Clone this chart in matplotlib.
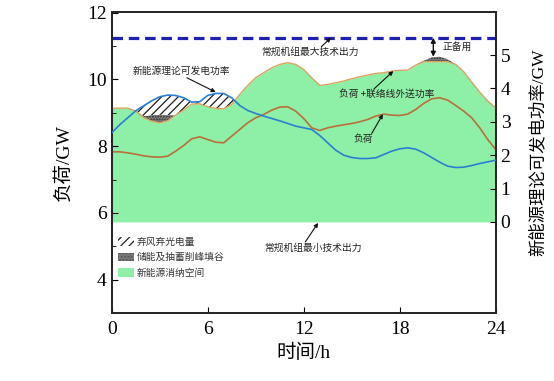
import matplotlib
matplotlib.use("Agg")
import matplotlib.pyplot as plt
from matplotlib.patches import Patch
import numpy as np

# ---------------- data ----------------
hours = [0.0, 0.5, 1.0, 1.5, 2.0, 2.5, 3.0, 3.5, 4.0, 4.5, 5.0, 5.5, 6.0, 6.5,
         7.0, 7.5, 8.0, 8.5, 9.0, 9.5, 10.0, 10.5, 11.0, 11.5, 12.0, 12.5, 13.0,
         13.5, 14.0, 14.5, 15.0, 15.5, 16.0, 16.5, 17.0, 17.5, 18.0, 18.5, 19.0,
         19.5, 20.0, 20.5, 21.0, 21.5, 22.0, 22.5, 23.0, 23.5, 24.0]

# load + tie-line export (upper edge of the green area), GW (left axis)
load_export = [9.13, 9.14, 9.14, 9.05, 8.86, 8.75, 8.70, 8.76, 8.93, 9.08, 9.26,
               9.27, 9.18, 9.13, 9.12, 9.25, 9.55, 9.82, 10.05, 10.20, 10.35,
               10.45, 10.50, 10.45, 10.30, 10.05, 9.82, 9.85, 9.90, 9.95, 10.02,
               10.08, 10.13, 10.18, 10.20, 10.25, 10.27, 10.28, 10.43, 10.53,
               10.53, 10.53, 10.53, 10.45, 10.23, 9.92, 9.62, 9.35, 9.15]

# other edge of the storage (peak shaving / valley filling) areas, GW (left axis)
storage_edge = [9.13, 9.14, 9.14, 9.05, 8.90, 8.93, 8.94, 8.93, 8.93, 9.08, 9.26,
                9.27, 9.18, 9.13, 9.12, 9.25, 9.55, 9.82, 10.05, 10.20, 10.35,
                10.45, 10.50, 10.45, 10.30, 10.05, 9.82, 9.85, 9.90, 9.95, 10.02,
                10.08, 10.13, 10.18, 10.20, 10.25, 10.27, 10.28, 10.43, 10.56,
                10.66, 10.68, 10.60, 10.45, 10.23, 9.92, 9.62, 9.35, 9.15]

# load, GW (left axis)
load = [7.83, 7.83, 7.80, 7.76, 7.71, 7.68, 7.67, 7.70, 7.85, 8.02, 8.22, 8.28,
        8.20, 8.12, 8.10, 8.30, 8.50, 8.70, 8.85, 8.95, 9.08, 9.17, 9.18, 9.05,
        8.83, 8.55, 8.47, 8.55, 8.60, 8.64, 8.68, 8.73, 8.80, 8.90, 8.96, 8.93,
        8.92, 8.96, 9.10, 9.28, 9.42, 9.45, 9.38, 9.22, 9.05, 8.85, 8.55, 8.20,
        7.90]

# new-energy theoretical available power, GW (right axis)
renewable = [2.67, 2.91, 3.12, 3.33, 3.48, 3.63, 3.75, 3.80, 3.79, 3.72, 3.59,
             3.60, 3.79, 3.85, 3.85, 3.72, 3.49, 3.34, 3.25, 3.17, 3.10, 3.03,
             2.95, 2.87, 2.82, 2.77, 2.59, 2.37, 2.15, 2.00, 1.93, 1.90, 1.90,
             1.92, 2.02, 2.12, 2.19, 2.22, 2.18, 2.07, 1.93, 1.79, 1.67, 1.63,
             1.64, 1.69, 1.75, 1.80, 1.85]

min_output = 5.73      # conventional units minimum technical output, GW (= right-axis 0)
max_output = 11.25     # conventional units maximum technical output, GW

x_ticks = [0, 6, 12, 18, 24]
y_ticks = [4, 6, 8, 10, 12]
y2_ticks = [0, 1, 2, 3, 4, 5]

# ---------------- figure ----------------
plt.rcParams['font.family'] = ['Liberation Serif', 'Noto Sans CJK SC', 'DejaVu Sans']
plt.rcParams['hatch.linewidth'] = 0.9
cjk = ['Noto Sans CJK SC', 'DejaVu Sans']
serif_cjk = ['Liberation Serif', 'Noto Sans CJK SC']

fig = plt.figure(figsize=(5.54, 3.81), dpi=100)
ax = fig.add_axes([0.2016, 0.1785, 0.6932, 0.7908])

h = np.array(hours)
top = np.array(load_export)
edge = np.array(storage_edge)
ren_left = np.array(renewable) + min_output

GREEN = '#8ef0a6'
ax.fill_between(h, min_output, top, color=GREEN, lw=0, zorder=1)

# storage (peak shaving / valley filling)
ax.fill_between(h, top, edge, where=edge > top + 1e-6, interpolate=True,
                facecolor='#7c7c7c', edgecolor='#333333', hatch='......',
                lw=0, zorder=2)

# curtailment (hatched)
base = np.maximum(top, edge)
ax.fill_between(h, base, ren_left, where=ren_left > base, interpolate=True,
                facecolor='white', edgecolor='#1a1a1a', hatch='////', lw=0, zorder=2)

ax.plot(h, top, color='#d9a462', lw=1.0, zorder=3)
ax.plot(h, load, color='#b8703a', lw=1.2, zorder=3)
ax.axhline(max_output, color='#1f22b0', lw=2.3, ls=(0, (3.3, 1.8)), zorder=4)

ax.set_xlim(0, 24)
ax.set_ylim(3, 12.03)
ax.set_xticks(x_ticks)
ax.set_yticks(y_ticks)
ax.set_yticks([5, 7, 9, 11], minor=True)
ax.tick_params(axis='both', which='both', direction='in', labelsize=14,
               top=False, right=False)
ax.tick_params(axis='both', which='major', length=4)
ax.tick_params(axis='y', which='minor', length=3)
for lab in ax.get_xticklabels() + ax.get_yticklabels():
    lab.set_fontfamily('Liberation Serif')
ax.tick_params(axis='x', pad=6)
ax.set_xlabel('时间/h', fontsize=14, family=serif_cjk, labelpad=4)
ax.set_ylabel('负荷/GW', fontsize=14, family=serif_cjk, labelpad=10)

# right axis
ax2 = ax.twinx()
ax2.set_ylim(3 - min_output, 12.03 - min_output)
ax2.plot(h, renewable, color='#2b7fd0', lw=1.2, zorder=5)
ax2.set_yticks(y2_ticks)
ax2.tick_params(axis='y', direction='in', labelsize=14, length=4)
for lab in ax2.get_yticklabels():
    lab.set_fontfamily('Liberation Serif')
ax2.set_ylabel('新能源理论可发电功率/GW', fontsize=12.5, family=serif_cjk,
               rotation=90, labelpad=10)
ax2.yaxis.set_label_coords(1.088, 0.535)

for a in (ax, ax2):
    for s in a.spines.values():
        s.set_linewidth(1.2)
        s.set_color('#222222')

# annotations
arrow = dict(arrowstyle='-|>', color='#111111', lw=0.8, mutation_scale=6,
             shrinkA=0, shrinkB=0)
tkw = dict(fontsize=7, family=cjk, color='#222222', zorder=6)

ax.text(4.35, 10.26, '新能源理论可发电功率', ha='center', va='center', **tkw)
ax.annotate('', xy=(6.5, 9.62), xytext=(4.7, 10.05), arrowprops=arrow, zorder=6)

ax.text(12.4, 10.83, '常规机组最大技术出力', ha='center', va='center', **tkw)
ax.annotate('', xy=(13.7, 11.25), xytext=(13.1, 10.98), arrowprops=arrow, zorder=6)

ax.text(17.2, 9.58, '负荷 +联络线外送功率', ha='center', va='center', **tkw)
ax.annotate('', xy=(17.6, 10.25), xytext=(16.4, 9.72), arrowprops=arrow, zorder=6)

ax.text(15.7, 8.23, '负荷', ha='center', va='center', **tkw)
ax.annotate('', xy=(16.95, 8.96), xytext=(16.25, 8.38), arrowprops=arrow, zorder=6)

ax.text(12.6, 4.96, '常规机组最小技术出力', ha='center', va='center', **tkw)
ax.annotate('', xy=(12.9, 5.7), xytext=(12.1, 5.13), arrowprops=arrow, zorder=6)

ax.text(20.7, 10.98, '正备用', ha='left', va='center', **tkw)
ax.annotate('', xy=(20.1, 10.68), xytext=(20.1, 11.25),
            arrowprops=dict(arrowstyle='<|-|>', color='#111111', lw=1.0,
                            mutation_scale=7, shrinkA=0, shrinkB=0), zorder=6)

# legend
handles = [Patch(facecolor='white', edgecolor='#222222', hatch='////', lw=0),
           Patch(facecolor='#7a7a7a', edgecolor='#555555', hatch='.....', lw=0),
           Patch(facecolor=GREEN, edgecolor=GREEN, lw=0)]
labels = ['弃风弃光电量', '储能及抽蓄削峰填谷', '新能源消纳空间']
leg = ax.legend(handles, labels, loc='upper left', bbox_to_anchor=(0.0, 0.275),
                frameon=False, prop={'family': cjk, 'size': 7},
                handlelength=1.6, handleheight=1.0, handletextpad=0.3,
                labelspacing=0.55, borderaxespad=0.3)
for t in leg.get_texts():
    t.set_color('#333333')
leg.set_zorder(7)

fig.savefig('out.png', dpi=100)
